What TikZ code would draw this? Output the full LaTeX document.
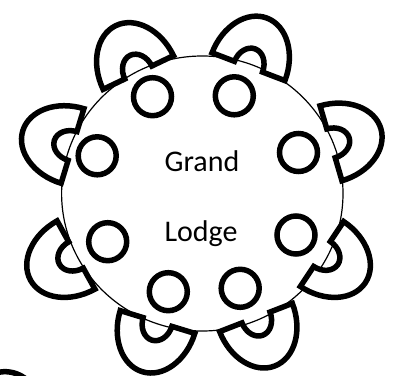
\documentclass[tikz,border=0pt]{standalone}
\usepackage{fontspec}
\setmainfont{Carlito}
\usetikzlibrary{calc}

\tikzset{
chair/.style={draw=black, fill=white, line width=5.5pt},
plate/.style={draw=black, line width=5.5pt},
tablerim/.style={draw=black, line width=1.2pt},
tabletext/.style={inner sep=0pt, anchor=base, font=\fontsize{30}{36}\selectfont}
}

\begin{document}
\begin{tikzpicture}[x=1pt,y=1pt]
\useasboundingbox (0,0) rectangle (396,375);
\clip (0,0) rectangle (396,375);
\draw[tablerim] (202.3,181.5) ellipse [x radius=140.7pt, y radius=137.5pt];
% chairs round the table
\foreach \cx/\cy/\a in {138.3/302.5/115.6, 248.5/308.3/69.1, 331/231.7/16.3, 322/121/-33.7,
256/57.5/-68.8, 157.5/53/-107, 76/120/-151, 72.5/229/163} {
\begin{scope}[shift={(\cx,\cy)}, rotate=\a-90]
\draw[chair] (-39,0) arc[start angle=180, end angle=0, x radius=39pt, y radius=52pt]
-- (15,0) arc[start angle=0, end angle=180, x radius=15pt, y radius=19pt] -- cycle;
\end{scope}
}
% piece cut off at the corner
\draw[plate] ($(5,-30.3)+(20:33.6)$) arc[start angle=20, end angle=160, radius=33.6pt];
% plates
\foreach \px/\py in {152.5/278.3, 234.3/279.2, 97.2/219.2, 298.5/222.5,
107.7/133.3, 296/140, 168.3/83.3, 240.2/86.7} {
\draw[plate] (\px,\py) circle[radius=19pt];
}
\node[tabletext] (grand) at (202,203.3) {Grand};
\node[tabletext] (lodge) at (201,133.3) {Lodge};
\end{tikzpicture}
\end{document}
